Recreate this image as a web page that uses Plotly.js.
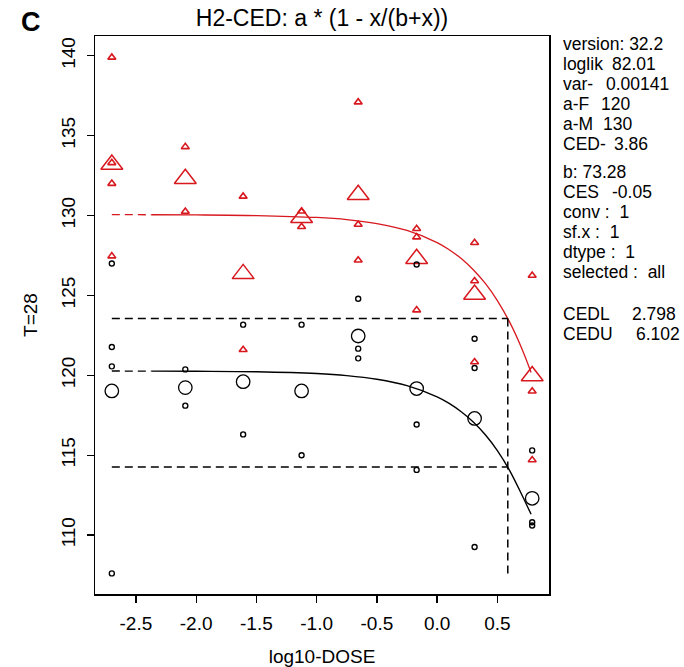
<!DOCTYPE html>
<html>
<head>
<meta charset="utf-8">
<script src="https://cdn.plot.ly/plotly-3.0.1.min.js"></script>
<style>html,body{margin:0;padding:0;background:#fff;}#plot{width:684px;height:667px;}</style>
</head>
<body>
<div id="plot"></div>
<script>
// ---- data ----
// dose groups (log10 dose)
var doseGroups = [-2.70, -2.09, -1.61, -1.125, -0.655, -0.17, 0.311, 0.789];

// individual observations, red (M)
var redObsX = [-2.70, -2.70, -2.70, -2.70, -2.09, -2.09, -1.61, -1.61, -1.125, -1.125,
               -0.655, -0.655, -0.655, -0.17, -0.17, -0.17, 0.311, 0.311, 0.311, 0.789, 0.789, 0.789];
var redObsY = [139.9, 133.3, 132.0, 127.46, 134.3, 130.25, 131.2, 121.6, 130.27, 129.3,
               137.1, 129.44, 127.2, 129.17, 128.65, 124.08, 128.3, 125.9, 120.83, 126.25, 119.0, 114.7];
// group means, red (M)
var redMeans = [133.2, 132.3, 126.35, 129.86, 131.3, 127.3, 125.06, 119.96];

// individual observations, black (F)
var blackObsX = [-2.70, -2.70, -2.70, -2.70, -2.09, -2.09, -1.61, -1.61, -1.125, -1.125,
                 -0.655, -0.655, -0.655, -0.17, -0.17, -0.17, 0.311, 0.311, 0.311, 0.789, 0.789, 0.789];
var blackObsY = [127.0, 121.77, 120.56, 107.6, 120.37, 118.1, 123.17, 116.3, 123.17, 115.0,
                 124.79, 121.67, 121.06, 126.94, 116.92, 114.08, 122.29, 120.46, 109.25, 115.3, 110.8, 110.6];
// group means, black (F)
var blackMeans = [119.02, 119.23, 119.6, 119.02, 122.46, 119.17, 117.3, 112.3];

// fitted curves
var curveDashX = [-2.70, -2.37];
var redDashY = [130.06, 130.05];
var blackDashY = [120.27, 120.26];
var curveX = [-2.37, -2.0, -1.5, -1.0, -0.75, -0.5, -0.25, 0.0, 0.1, 0.2, 0.3, 0.4, 0.5, 0.6, 0.7, 0.78];
var redCurveY = [130.05, 130.04, 130.00, 129.88, 129.75, 129.50, 129.07, 128.31, 127.86, 127.31, 126.61, 125.75, 124.68, 123.36, 121.73, 120.18];
var blackCurveY = [120.26, 120.25, 120.22, 120.11, 119.98, 119.75, 119.35, 118.65, 118.24, 117.72, 117.08, 116.28, 115.29, 114.07, 112.57, 111.3];

// CED reference lines
var cedLogX = [-2.70, 0.5866];
var cesLevelRed = [123.56, 123.56];
var cesLevelBlack = [114.26, 114.26];
var cedVertX = [0.5866, 0.5866];
var cedVertY = [123.56, 107.6];

// axes
var xTickVals = [-2.5, -2.0, -1.5, -1.0, -0.5, 0.0, 0.5];
var xTickText = ['-2.5', '-2.0', '-1.5', '-1.0', '-0.5', '0.0', '0.5'];
var yTickVals = [110, 115, 120, 125, 130, 135, 140];
var yTickText = ['110', '115', '120', '125', '130', '135', '140'];

// side text
var infoLabels = ['version: 32.2', 'loglik', 'var-', 'a-F', 'a-M', 'CED-', 'b: 73.28', 'CES', 'conv :  1', 'sf.x :  1', 'dtype :  1', 'selected :  all', 'CEDL', 'CEDU'];
var infoValues = ['', '82.01', '0.00141', '120', '130', '3.86', '', '-0.05', '', '', '', '', '2.798', '6.102'];

// ---- layout helpers ----
var W = 684, H = 667;
var M = {l: 95, r: 135, t: 36, b: 73};
var plotW = W - M.l - M.r, plotH = H - M.t - M.b;
function px2paperX(px) { return (px - M.l) / plotW; }
function px2paperY(py) { return (H - M.b - py) / plotH; }

var RED = '#d7191f';
var FONT = 'Liberation Sans, Arial, sans-serif';
var dash = '8px,5px';

var traces = [
  {x: curveDashX, y: redDashY, mode: 'lines', line: {color: RED, width: 1.3, dash: dash}, hoverinfo: 'skip'},
  {x: curveX, y: redCurveY, mode: 'lines', line: {color: RED, width: 1.3, shape: 'spline'}, hoverinfo: 'skip'},
  {x: curveDashX, y: blackDashY, mode: 'lines', line: {color: '#000', width: 1.3, dash: dash}, hoverinfo: 'skip'},
  {x: curveX, y: blackCurveY, mode: 'lines', line: {color: '#000', width: 1.4, shape: 'spline'}, hoverinfo: 'skip'},
  {x: cedLogX, y: cesLevelRed, mode: 'lines', line: {color: '#000', width: 1.5, dash: dash}, hoverinfo: 'skip'},
  {x: cedLogX, y: cesLevelBlack, mode: 'lines', line: {color: '#000', width: 1.5, dash: dash}, hoverinfo: 'skip'},
  {x: cedVertX, y: cedVertY, mode: 'lines', line: {color: '#000', width: 1.5, dash: dash}, hoverinfo: 'skip'},
  {x: redObsX, y: redObsY, mode: 'markers', marker: {symbol: 'triangle-up-open', size: 7, color: RED, line: {color: RED, width: 1.6}}},
  {x: doseGroups, y: redMeans, mode: 'markers', marker: {symbol: 'triangle-up-open', size: 19, color: RED, line: {color: RED, width: 1.5}}},
  {x: blackObsX, y: blackObsY, mode: 'markers', marker: {symbol: 'circle-open', size: 5, color: '#000', line: {color: '#000', width: 1.4}}},
  {x: doseGroups, y: blackMeans, mode: 'markers', marker: {symbol: 'circle-open', size: 13.5, color: '#000', line: {color: '#000', width: 1.3}}}
];

var infoY = [44, 64, 84, 104, 124, 144, 172, 192, 212, 232, 252, 272, 314, 334];
var valueX = [0, 611, 605, 600, 602, 613, 0, 611, 0, 0, 0, 0, 631, 635];

var annotations = [];
for (var i = 0; i < infoLabels.length; i++) {
  annotations.push({xref: 'paper', yref: 'paper', x: px2paperX(562), y: px2paperY(infoY[i]),
    xanchor: 'left', yanchor: 'middle', showarrow: false, text: infoLabels[i], borderpad: 0,
    font: {family: FONT, size: 17.5, color: '#000'}});
  if (infoValues[i]) {
    annotations.push({xref: 'paper', yref: 'paper', x: px2paperX(valueX[i]), y: px2paperY(infoY[i]),
      xanchor: 'left', yanchor: 'middle', showarrow: false, text: infoValues[i], borderpad: 0,
      font: {family: FONT, size: 17.5, color: '#000'}});
  }
}
annotations.push({xref: 'paper', yref: 'paper', x: px2paperX(31), y: px2paperY(22),
  xanchor: 'center', yanchor: 'middle', showarrow: false, text: '<b>C</b>',
  font: {family: FONT, size: 27, color: '#000'}});

var layout = {
  width: W, height: H,
  margin: M,
  paper_bgcolor: '#fff', plot_bgcolor: '#fff',
  showlegend: false,
  font: {family: FONT, size: 19, color: '#000'},
  title: {text: 'H2-CED: a * (1 - x/(b+x))', font: {family: FONT, size: 23, color: '#000'},
          xref: 'paper', x: 0.5, xanchor: 'center', yref: 'container', y: 1 - 18 / H, yanchor: 'middle'},
  xaxis: {range: [-2.8396, 0.9286], tickvals: xTickVals, ticktext: xTickText,
          ticks: 'outside', ticklen: 7, tickwidth: 1.3, tickcolor: '#000', ticklabelstandoff: 5,
          showline: true, mirror: true, linecolor: '#000', linewidth: 1.5,
          showgrid: false, zeroline: false, tickfont: {family: FONT, size: 19},
          title: {text: 'log10-DOSE', font: {family: FONT, size: 19}, standoff: 16}},
  yaxis: {range: [106.31, 141.24], tickvals: yTickVals, ticktext: yTickText, tickangle: -90,
          ticks: 'outside', ticklen: 7, tickwidth: 1.3, tickcolor: '#000', ticklabelstandoff: 4,
          showline: true, mirror: true, linecolor: '#000', linewidth: 1.5,
          showgrid: false, zeroline: false, tickfont: {family: FONT, size: 19},
          title: {text: 'T=28', font: {family: FONT, size: 19}, standoff: 15}},
  annotations: annotations
};

Plotly.newPlot('plot', traces, layout, {displayModeBar: false, staticPlot: true});
</script>
</body>
</html>
